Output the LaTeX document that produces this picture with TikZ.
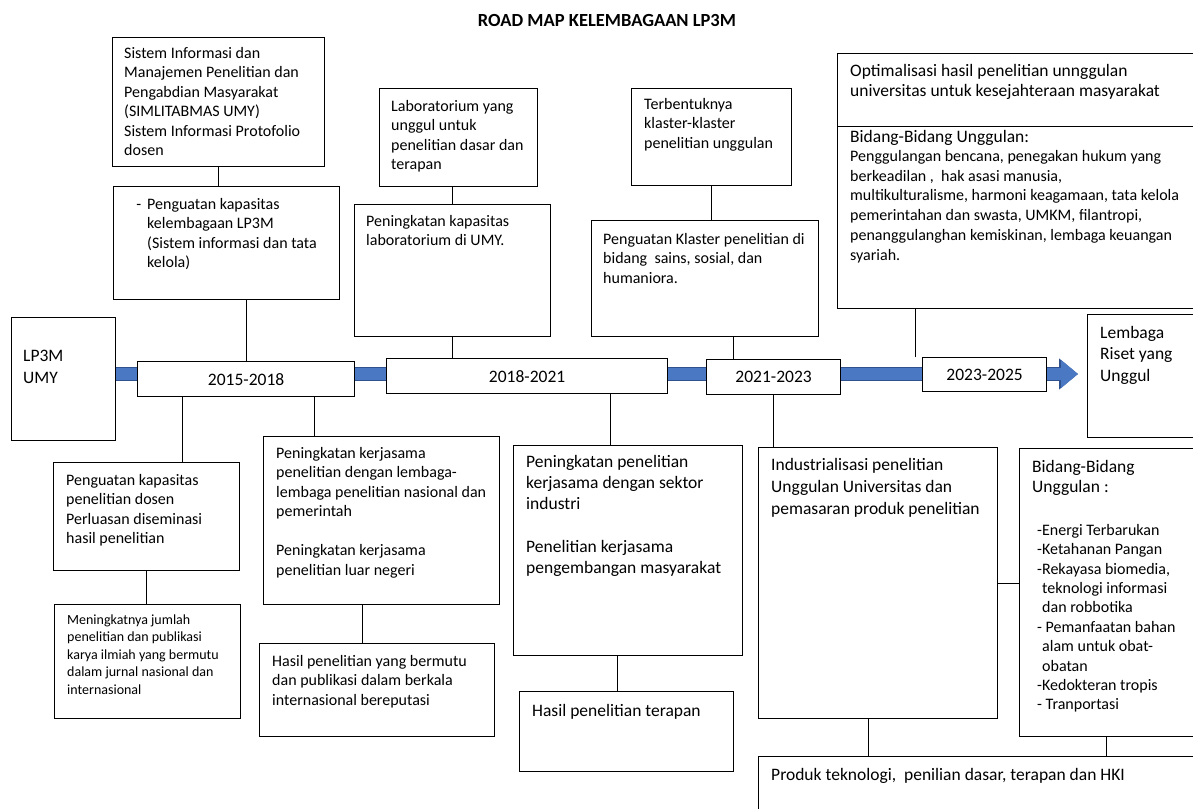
\documentclass[tikz,border=0pt]{standalone}
\usepackage{fontspec}
\setmainfont{Carlito}
\usetikzlibrary{arrows.meta,backgrounds}
\definecolor{garisbiru}{HTML}{4A78C2}
\definecolor{tepibiru}{HTML}{2F528F}
\newcommand{\ukuran}[2]{\fontsize{#1}{#2}\selectfont}

\begin{document}
\begin{tikzpicture}[x=1pt,y=-1pt,
  kotak/.style={draw, line width=1.2pt, fill=white, anchor=north west, inner sep=0pt},
  tahun/.style={kotak, font=\ukuran{17.5}{21}},
  isi/.style={anchor=north west, align=left, inner sep=0pt, font=\ukuran{16}{19.5}},
  besar/.style={isi, font=\ukuran{17.5}{21.5}},
  garis/.style={line width=1.2pt},
  linimasa/.style={line width=12pt, garisbiru, -{Triangle[length=17pt,width=27pt]},
    preaction={draw=tepibiru, line width=14.5pt, -{Triangle[length=19pt,width=30pt]}}}]
\clip (0,0) rectangle (1193,808);
% Judul
\node[font=\bfseries\ukuran{18.5}{22}] (judul) at (607,20) {ROAD MAP KELEMBAGAAN LP3M};
% Kotak tahun
\node[kotak, minimum width=104pt, minimum height=123pt] (lp3m) at (11,317) {};
\node[tahun, minimum width=217pt, minimum height=35pt] (th1) at (137,361) {2015-2018};
\node[tahun, minimum width=281pt, minimum height=35pt] (th2) at (386,358) {2018-2021};
\node[tahun, minimum width=134pt, minimum height=35pt] (th3) at (706,359) {2021-2023\hspace{32pt}};
\node[tahun, minimum width=124pt, minimum height=34pt] (th4) at (922,357) {2023-2025};
\node[kotak, minimum width=120pt, minimum height=123pt] (lembaga) at (1087,314) {};
% Kotak atas
\node[kotak, minimum width=212pt, minimum height=129pt] (sim) at (112,37) {};
\node[kotak, minimum width=226pt, minimum height=113pt] (kelembagaan) at (113,186) {};
\node[kotak, minimum width=158pt, minimum height=98pt] (lab) at (379,88) {};
\node[kotak, minimum width=196pt, minimum height=132pt] (labkap) at (354,204) {};
\node[kotak, minimum width=160pt, minimum height=97pt] (klaster) at (631,88) {};
\node[kotak, minimum width=227pt, minimum height=116pt] (penklaster) at (591,220) {};
\node[kotak, minimum width=370pt, minimum height=73pt] (optim) at (837,53) {};
\node[kotak, minimum width=370pt, minimum height=182pt] (unggul) at (837,126) {};
% Kotak bawah
\node[kotak, minimum width=186pt, minimum height=108pt] (dosen) at (53,462) {};
\node[kotak, minimum width=186pt, minimum height=114pt] (meningkat) at (54,604) {};
\node[kotak, minimum width=236pt, minimum height=168pt] (kerjasama) at (263,436) {};
\node[kotak, minimum width=235pt, minimum height=93pt] (bermutu) at (259,643) {};
\node[kotak, minimum width=229pt, minimum height=210pt] (industri) at (513,445) {};
\node[kotak, minimum width=214pt, minimum height=80pt] (terapan) at (519,691) {};
\node[kotak, minimum width=239pt, minimum height=271pt] (industrialisasi) at (758,447) {};
\node[kotak, minimum width=190pt, minimum height=288pt] (bidang) at (1019,448) {};
\node[kotak, minimum width=450pt, minimum height=60pt] (produk) at (758,756) {};
% Teks
\node[besar, font=\ukuran{17.5}{22}] (lp3mtxt) at (23,350) {LP3M\\UMY};
\node[besar] (lembagatxt) at (1100,326) {Lembaga\\Riset yang\\Unggul};
\node[isi] (simtxt) at (124,47) {Sistem Informasi dan\\Manajemen Penelitian dan\\Pengabdian Masyarakat\\(SIMLITABMAS UMY)\\Sistem Informasi Protofolio\\dosen};
\node[isi] (kelembagaantxt) at (147,198) {\llap{-\hspace{6pt}}Penguatan kapasitas\\kelembagaan LP3M\\(Sistem informasi dan tata\\kelola)};
\node[isi] (labtxt) at (391,100) {Laboratorium yang\\unggul untuk\\penelitian dasar dan\\terapan};
\node[isi] (labkaptxt) at (366,215) {Peningkatan kapasitas\\laboratorium di UMY.};
\node[isi] (klastertxt) at (644,98) {Terbentuknya\\klaster-klaster\\penelitian unggulan};
\node[isi] (penklastertxt) at (603,233) {Penguatan Klaster penelitian di\\bidang\ \ sains, sosial, dan\\humaniora.};
\node[besar, font=\ukuran{17.5}{20.5}] (optimtxt) at (850,64) {Optimalisasi hasil penelitian unnggulan\\universitas untuk kesejahteraan masyarakat};
\node[besar] (unggulhead) at (850,130) {Bidang-Bidang Unggulan:};
\node[isi, font=\ukuran{16}{19.8}] (unggultxt) at (850,150) {Penggulangan bencana, penegakan hukum yang\\berkeadilan ,\ \ hak asasi manusia,\\multikulturalisme, harmoni keagamaan, tata kelola\\pemerintahan dan swasta, UMKM, filantropi,\\penanggulanghan kemiskinan, lembaga keuangan\\syariah.};
\node[isi] (dosentxt) at (66,474) {Penguatan kapasitas\\penelitian dosen\\Perluasan diseminasi\\hasil penelitian};
\node[isi, font=\ukuran{14}{17.5}] (meningkattxt) at (67,614.5) {Meningkatnya jumlah\\penelitian dan publikasi\\karya ilmiah yang bermutu\\dalam jurnal nasional dan\\internasional};
\node[isi] (kerjasamatxt) at (276,447) {Peningkatan kerjasama\\penelitian dengan lembaga-\\lembaga penelitian nasional dan\\pemerintah\\[19.5pt]Peningkatan kerjasama\\penelitian luar negeri};
\node[isi] (bermututxt) at (272,655) {Hasil penelitian yang bermutu\\dan publikasi dalam berkala\\internasional bereputasi};
\node[besar, font=\ukuran{17.5}{21.3}] (industritxt) at (526,455) {Peningkatan penelitian\\kerjasama dengan sektor\\industri\\[21.3pt]Penelitian kerjasama\\pengembangan masyarakat};
\node[besar] (terapantxt) at (532,704) {Hasil penelitian terapan};
\node[besar, font=\ukuran{17.5}{22}] (industrialisasitxt) at (771,458) {Industrialisasi penelitian\\Unggulan Universitas dan\\pemasaran produk penelitian};
\node[besar, font=\ukuran{17.5}{20}] (bidanghead) at (1032,460) {Bidang-Bidang\\Unggulan :};
\node[isi, font=\ukuran{16}{19.4}] (bidangtxt) at (1037,524) {-Energi Terbarukan\\-Ketahanan Pangan\\-Rekayasa biomedia,\\\hspace*{5pt}teknologi informasi\\\hspace*{5pt}dan robbotika\\-\ Pemanfaatan bahan\\\hspace*{5pt}alam untuk obat-\\\hspace*{5pt}obatan\\-Kedokteran tropis\\-\ Tranportasi};
\node[besar] (produktxt) at (771,768) {Produk teknologi,\ \ penilian dasar, terapan dan HKI};
% Garis penghubung
\draw[garis] (sim.south) -- (sim.south |- kelembagaan.north);
\draw[garis] (th1.north) -- (th1.north |- kelembagaan.south);
\draw[garis] (labkap.north) -- (labkap.north |- lab.south);
\draw[garis] (labkap.south) -- (labkap.south |- th2.north);
\draw[garis] (klaster.south) -- (klaster.south |- penklaster.north);
\draw[garis] ([xshift=-40pt]th3.north) -- ([xshift=-40pt]th3.north |- penklaster.south);
\draw[garis] ([xshift=-69pt]th4.north) -- ([xshift=-69pt]th4.north |- unggul.south);
\draw[garis] ([xshift=-64pt]th1.south) -- ([xshift=-64pt]th1.south |- dosen.north);
\draw[garis] ([xshift=68pt]th1.south) -- ([xshift=68pt]th1.south |- kerjasama.north);
\draw[garis] (dosen.south) -- (dosen.south |- meningkat.north);
\draw[garis] ([xshift=-19pt]kerjasama.south) -- ([xshift=-19pt]kerjasama.south |- bermutu.north);
\draw[garis] ([xshift=-18pt]industri.north) -- ([xshift=-18pt]industri.north |- th2.south);
\draw[garis] ([xshift=-11pt]industri.south) -- ([xshift=-11pt]industri.south |- terapan.north);
\draw[garis] (th3.south) -- (th3.south |- industrialisasi.north);
\draw[garis] (industrialisasi.east) -- (industrialisasi.east -| bidang.west);
\draw[garis] ([xshift=-10pt]industrialisasi.south) -- ([xshift=-10pt]industrialisasi.south |- produk.north);
\draw[garis] ([xshift=-8pt]bidang.south) -- ([xshift=-8pt]bidang.south |- produk.north);
% Garis waktu
\coordinate (ujung) at (1078,374);
\begin{scope}[on background layer]
\draw[linimasa] (lp3m.east |- ujung) -- (ujung);
\end{scope}
\end{tikzpicture}
\end{document}
